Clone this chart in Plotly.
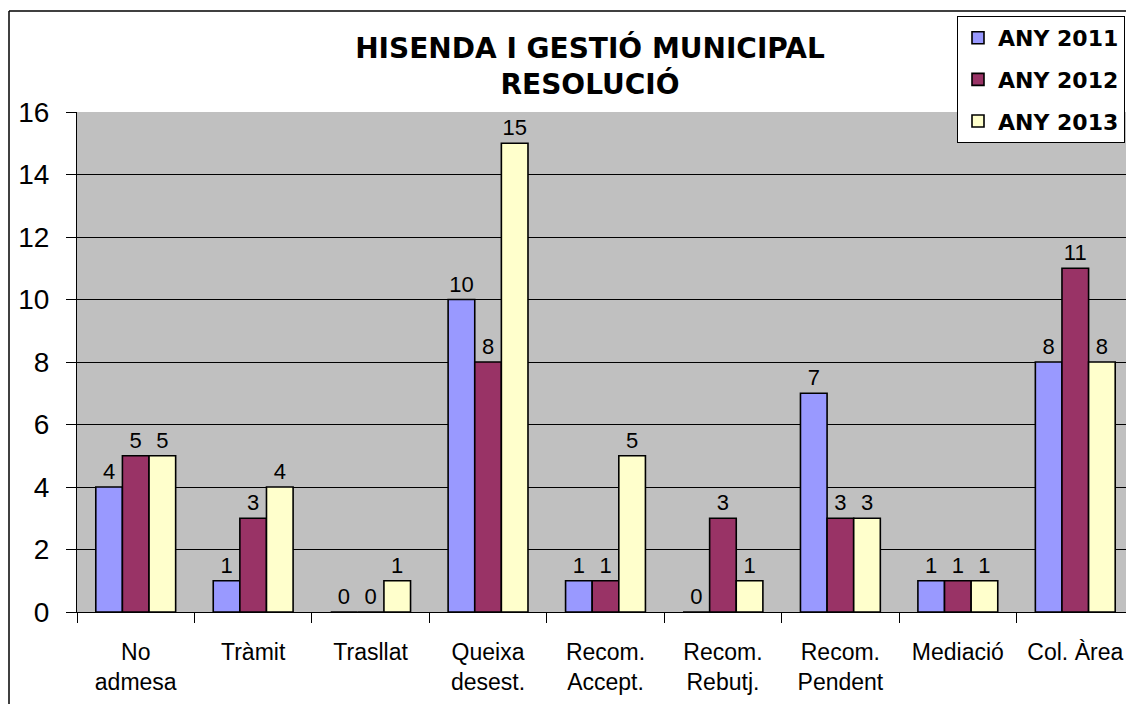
import plotly.graph_objects as go

categories = ["No<br>admesa", "Tràmit", "Trasllat", "Queixa<br>desest.", "Recom.<br>Accept.",
              "Recom.<br>Rebutj.", "Recom.<br>Pendent", "Mediació", "Col. Àrea"]
any_2011 = [4, 1, 0, 10, 1, 0, 7, 1, 8]
any_2012 = [5, 3, 0, 8, 1, 3, 3, 1, 11]
any_2013 = [5, 4, 1, 15, 5, 1, 3, 1, 8]
series_names = ["ANY 2011", "ANY 2012", "ANY 2013"]
colors = ["#9999FF", "#993366", "#FFFFCC"]
y_ticks = [0, 2, 4, 6, 8, 10, 12, 14, 16]

# page has an 8px body margin; figure is sized so it ends at the window edge
OFF = 8
W, H = 1134 - OFF, 704 - OFF
FONT = "Liberation Sans, Arial, sans-serif"
BOLDFONT = "DejaVu Sans, Arial, sans-serif"


def px(x):
    return (x - OFF) / W


def py(y):
    return 1 - (y - OFF) / H


fig = go.Figure()
for name, vals, col in zip(series_names, [any_2011, any_2012, any_2013], colors):
    fig.add_trace(go.Bar(
        x=categories, y=vals, name=name, legendgroup=name,
        marker=dict(color=col, line=dict(color="black", width=1.6)),
        text=vals, textposition="outside", cliponaxis=False,
        textfont=dict(family=FONT, size=22, color="black"),
    ))

fig.update_layout(
    width=W, height=H,
    margin=dict(l=0, r=0, t=0, b=0),
    paper_bgcolor="white",
    plot_bgcolor="#C0C0C0",
    barmode="group", bargap=0.32, bargroupgap=0,
    font=dict(family=FONT, color="black"),
    title=dict(
        text="<b>HISENDA I GESTIÓ MUNICIPAL<br>RESOLUCIÓ</b>",
        x=px(590), xanchor="center", y=py(58), yanchor="top",
        font=dict(family=BOLDFONT, size=28, color="black"),
    ),
    legend=dict(
        x=px(957), y=py(16), xanchor="left", yanchor="top",
        bgcolor="white", bordercolor="black", borderwidth=1,
        font=dict(family=BOLDFONT, size=22, color="black", weight="bold"),
        tracegroupgap=10,
    ),
    xaxis=dict(
        domain=[px(77), 1.0],
        showline=True, linecolor="black", linewidth=1,
        ticks="outside", ticklen=10, tickcolor="black", tickson="boundaries",
        tickfont=dict(family=FONT, size=23, color="black"),
        showgrid=False, automargin=False, ticklabelstandoff=19,
    ),
    yaxis=dict(
        domain=[py(612), py(112)],
        range=[0, 16], tickvals=y_ticks,
        showline=True, linecolor="black", linewidth=1,
        ticks="outside", ticklen=10, tickcolor="black",
        showgrid=True, gridcolor="black", gridwidth=1,
        tickfont=dict(family=FONT, size=28, color="black"),
        zeroline=False, automargin=False, ticklabelstandoff=11,
    ),
    shapes=[
        dict(type="line", xref="paper", yref="paper", x0=px(9), x1=px(9), y0=-0.05, y1=py(11),
             line=dict(color="black", width=1.5)),
        dict(type="line", xref="paper", yref="paper", x0=px(9), x1=1.05, y0=py(11), y1=py(11),
             line=dict(color="black", width=1.5)),
    ],
)
fig.write_html("out.html")
